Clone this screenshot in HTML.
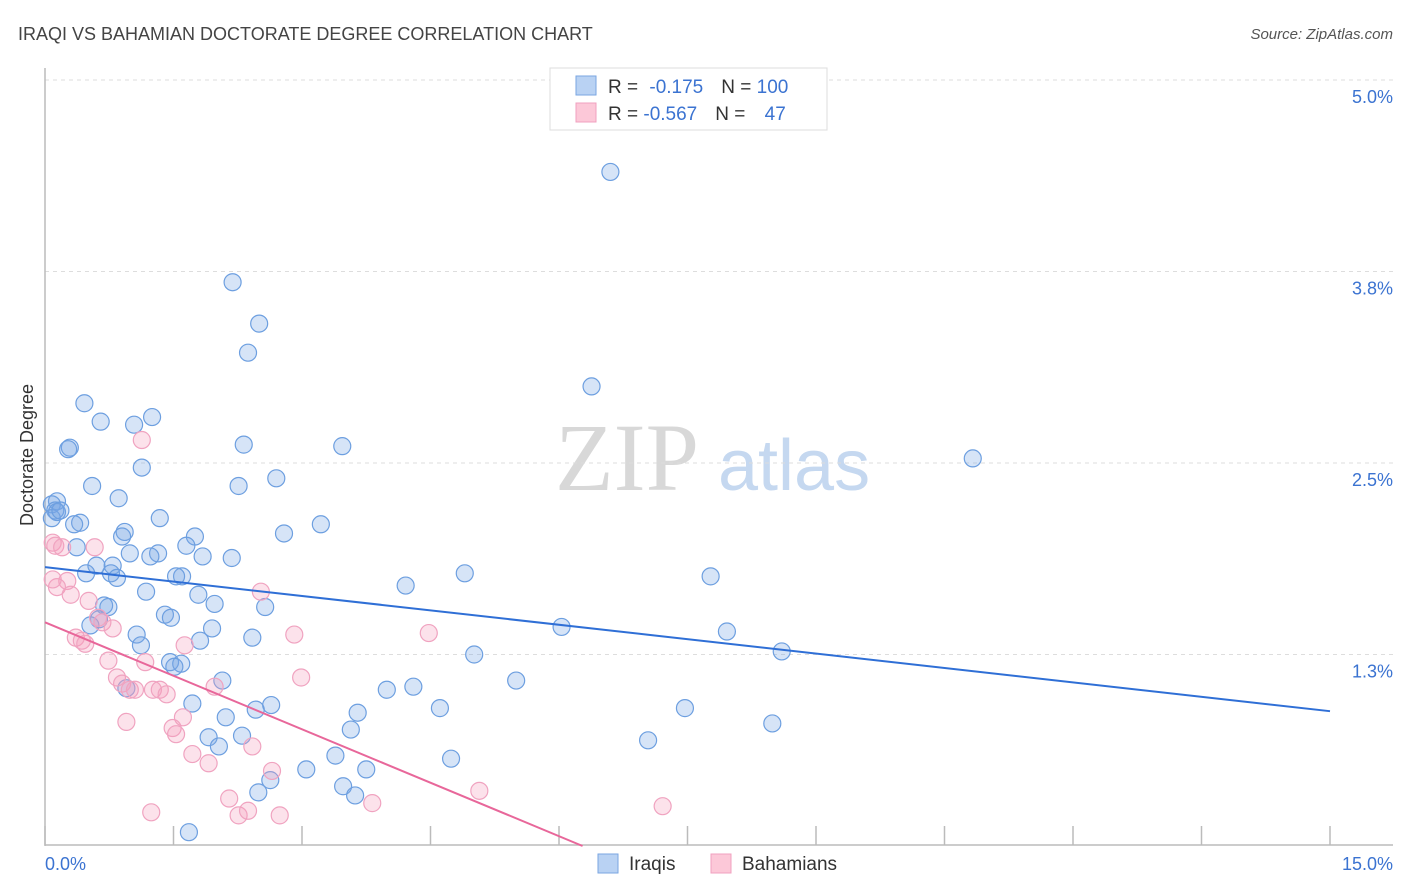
<!DOCTYPE html>
<html><head><meta charset="utf-8"><style>
body{margin:0;background:#fff;width:1406px;height:892px;overflow:hidden;font-family:"Liberation Sans",sans-serif}
svg{position:absolute;left:0;top:0}
</style></head><body>
<svg id="chart" width="1406" height="892">
<text x="18" y="40" font-size="18" fill="#444">IRAQI VS BAHAMIAN DOCTORATE DEGREE CORRELATION CHART</text>
<text x="1393" y="39" font-size="15" fill="#555" font-style="italic" text-anchor="end">Source: ZipAtlas.com</text>
<text transform="translate(33,455) rotate(-90)" font-size="18" fill="#333" text-anchor="middle">Doctorate Degree</text>
<g>
<text x="555" y="490" font-size="96" font-family="Liberation Serif" fill="#d8d8d8">ZIP</text>
<text x="718" y="490" font-size="72" fill="#c5d8f0">atlas</text>
</g>
<g id="grid"></g><g id="axes"></g><g id="marks"></g>
<g>
<rect x="550" y="68" width="277" height="62" fill="#fff" stroke="#ddd"/>
<rect x="576" y="76" width="20" height="19" fill="#b9d2f3" stroke="#7aa6e2"/>
<rect x="576" y="103" width="20" height="19" fill="#fcc8d8" stroke="#f0a0bf"/>
<text x="608" y="93" font-size="19" fill="#333">R = <tspan fill="#3b73d1" dx="6">-0.175</tspan><tspan fill="#333" dx="18">N = </tspan><tspan fill="#3b73d1">100</tspan></text>
<text x="608" y="120" font-size="19" fill="#333">R = <tspan fill="#3b73d1">-0.567</tspan><tspan fill="#333" dx="18">N = </tspan><tspan fill="#3b73d1" dx="14">47</tspan></text>
</g>
<g>
<rect x="598" y="854" width="20" height="19" fill="#b9d2f3" stroke="#7aa6e2"/>
<text x="629" y="870" font-size="19" fill="#333">Iraqis</text>
<rect x="711" y="854" width="20" height="19" fill="#fcc8d8" stroke="#f0a0bf"/>
<text x="742" y="870" font-size="19" fill="#333">Bahamians</text>
</g>
</svg>
<script>
const yTicks=[5.0,3.75,2.5,1.25];
const yTickLabels=["5.0%","3.8%","2.5%","1.3%"];
const xTicks=[0,1.5,3,4.5,6,7.5,9,10.5,12,13.5,15];
const xEndLabels=["0.0%","15.0%"];
const iraqiX=[6.60,2.19,2.50,2.37,6.38,0.46,1.25,0.65,1.04,0.29,0.27,2.32,3.47,10.83,1.13,0.55,2.26,2.70,0.86,0.14,0.08,0.12,0.08,0.41,0.34,1.34,3.22,0.93,0.90,1.75,2.79,0.37,0.99,1.32,1.23,1.65,1.84,2.18,4.90,7.77,0.60,0.48,0.79,0.77,0.84,1.60,1.53,4.21,1.18,1.79,1.98,0.69,0.74,2.57,0.63,1.40,1.47,0.53,1.95,6.03,7.96,1.07,1.12,1.81,2.42,8.60,5.01,1.46,1.59,1.51,5.50,2.07,0.95,3.99,4.30,1.72,2.64,2.46,7.47,4.61,3.65,2.11,8.49,3.57,1.91,2.30,2.03,7.04,4.74,3.39,3.05,3.75,2.63,3.48,3.62,2.49,1.68,0.14,0.18];
const iraqiY=[4.40,3.68,3.41,3.22,3.00,2.89,2.80,2.77,2.75,2.60,2.59,2.62,2.61,2.53,2.47,2.35,2.35,2.40,2.27,2.25,2.23,2.19,2.14,2.11,2.10,2.14,2.10,2.05,2.02,2.02,2.04,1.95,1.91,1.91,1.89,1.96,1.89,1.88,1.78,1.76,1.83,1.78,1.83,1.78,1.75,1.76,1.76,1.70,1.66,1.64,1.58,1.57,1.56,1.56,1.48,1.51,1.49,1.44,1.42,1.43,1.40,1.38,1.31,1.34,1.36,1.27,1.25,1.20,1.19,1.17,1.08,1.08,1.03,1.02,1.04,0.93,0.92,0.89,0.90,0.90,0.87,0.84,0.80,0.76,0.71,0.72,0.65,0.69,0.57,0.59,0.50,0.50,0.43,0.39,0.33,0.35,0.09,2.18,2.19];
const bahX=[1.13,0.09,0.12,0.20,0.58,0.26,0.14,0.30,2.52,0.51,0.36,0.43,0.47,0.62,0.67,0.79,2.91,4.48,1.63,0.74,1.17,2.99,0.84,0.90,0.99,1.05,1.26,1.34,1.42,1.98,1.61,0.95,1.49,1.53,2.42,1.72,1.91,2.65,5.07,2.15,3.82,7.21,1.24,2.26,2.37,2.74,0.09];
const bahY=[2.65,1.98,1.96,1.95,1.95,1.73,1.69,1.64,1.66,1.60,1.36,1.34,1.32,1.49,1.46,1.42,1.38,1.39,1.31,1.21,1.20,1.10,1.10,1.06,1.02,1.02,1.02,1.02,0.99,1.04,0.84,0.81,0.77,0.73,0.65,0.60,0.54,0.49,0.36,0.31,0.28,0.26,0.22,0.20,0.23,0.20,1.74];
const iraqiTrend=[1.82,0.88]; // value at x=0 and x=15
const bahTrend=[1.46,-2.03];  // value at x=0 and x=15 (clipped at 0)

const NS="http://www.w3.org/2000/svg";
const X0=45,X1=1330,Y0=846,Ytop=80;
function sx(v){return X0+(X1-X0)*v/15;}
function sy(v){return Y0-(Y0-Ytop)*v/5;}
function mk(t,a,p){const e=document.createElementNS(NS,t);for(const k in a)e.setAttribute(k,a[k]);p.appendChild(e);return e;}
const grid=document.getElementById('grid'),axes=document.getElementById('axes'),marks=document.getElementById('marks');
yTicks.forEach((v,i)=>{
 const l=mk('line',{x1:45,x2:1393,y1:sy(v),y2:sy(v),stroke:'#ddd','stroke-dasharray':'4,4'},grid);
 
 
 const t=mk('text',{x:1393,y:sy(v)+23,'font-size':18,fill:'#3b73d1','text-anchor':'end'},axes);
 t.textContent=yTickLabels[i];
 
 
});
const ya=mk('line',{x1:45,x2:45,y1:68,y2:846,stroke:'#bbb','stroke-width':1.5},axes);


const xa=mk('line',{x1:45,x2:1393,y1:845,y2:845,stroke:'#bbb','stroke-width':1.5},axes);


xTicks.forEach(v=>{
 const l=mk('line',{x1:sx(v),x2:sx(v),y1:826,y2:845,stroke:'#bbb','stroke-width':1.5},axes);
 
 
});
const xl0=mk('text',{x:45,y:870,'font-size':18,fill:'#3b73d1'},axes);xl0.textContent=xEndLabels[0];


const xl1=mk('text',{x:1393,y:870,'font-size':18,fill:'#3b73d1','text-anchor':'end'},axes);xl1.textContent=xEndLabels[1];


iraqiX.forEach((x,i)=>{
 const c=mk('circle',{cx:sx(x),cy:sy(iraqiY[i]),r:8.5,fill:'rgba(120,165,230,0.3)',stroke:'#6d9fe0','stroke-width':1.2},marks);
 
 
});
bahX.forEach((x,i)=>{
 const c=mk('circle',{cx:sx(x),cy:sy(bahY[i]),r:8.5,fill:'rgba(245,160,190,0.3)',stroke:'#f0a3c0','stroke-width':1.2},marks);
 
 
});
const bl=mk('line',{x1:sx(0),y1:sy(iraqiTrend[0]),x2:sx(15),y2:sy(iraqiTrend[1]),stroke:'#2f6fd6','stroke-width':2},marks);


const xz=15*bahTrend[0]/(bahTrend[0]-bahTrend[1]);
const xe=Math.min(15,xz);
const pl=mk('line',{x1:sx(0),y1:sy(bahTrend[0]),x2:sx(xe),y2:sy(Math.max(0,bahTrend[0]+(bahTrend[1]-bahTrend[0])*xe/15)),stroke:'#e8679a','stroke-width':2},marks);


</script>
</body></html>
